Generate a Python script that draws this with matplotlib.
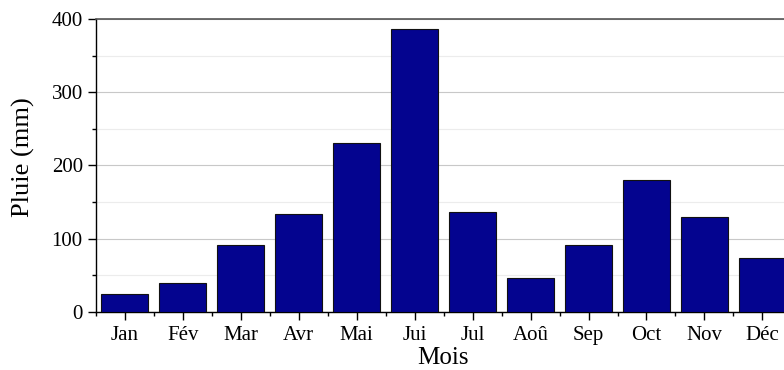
import matplotlib.pyplot as plt
import numpy as np
from matplotlib.ticker import FixedLocator, MultipleLocator

months = ["Jan", "Fév", "Mar", "Avr", "Mai", "Jui", "Jul", "Aoû", "Sep", "Oct", "Nov", "Déc"]
rain_mm = [25, 40, 92, 134, 231, 386, 136, 47, 92, 180, 130, 74]

plt.rcParams["font.family"] = ["Liberation Serif", "DejaVu Serif"]

fig = plt.figure(figsize=(7.84, 3.70), dpi=100)
ax = fig.add_axes([0.1224, 0.1568, 0.887, 0.792])

x = np.arange(1, len(months) + 1)
ax.bar(x, rain_mm, width=0.81, color="#04048f", edgecolor="#111111", linewidth=0.8, zorder=3)

ax.set_xlim(0.5, 12.5)
ax.set_ylim(0, 400)
ax.set_xticks(x, months)
ax.xaxis.set_minor_locator(FixedLocator(np.arange(0.5, 13, 1)))
ax.yaxis.set_major_locator(MultipleLocator(100))
ax.yaxis.set_minor_locator(MultipleLocator(50))

ax.grid(which="major", axis="y", color="#c8c8c8", linewidth=0.8, zorder=0)
ax.grid(which="minor", axis="y", color="#ececec", linewidth=0.8, zorder=0)

ax.tick_params(axis="both", which="major", direction="out", length=6, width=1.0, labelsize=15)
ax.tick_params(axis="both", which="minor", direction="out", length=3, width=1.0)
ax.tick_params(axis="x", which="major", pad=4)

for side in ("left", "bottom"):
    ax.spines[side].set_linewidth(1.0)
ax.spines["top"].set_color("#555555")
ax.spines["top"].set_linewidth(1.2)
ax.spines["right"].set_visible(False)

ax.set_ylabel("Pluie (mm)", fontsize=19)
ax.set_xlabel("Mois", fontsize=18)
ax.yaxis.set_label_coords(-0.088, 0.53)
ax.xaxis.set_label_coords(0.499, -0.12)

fig.savefig("out.png", dpi=100)
